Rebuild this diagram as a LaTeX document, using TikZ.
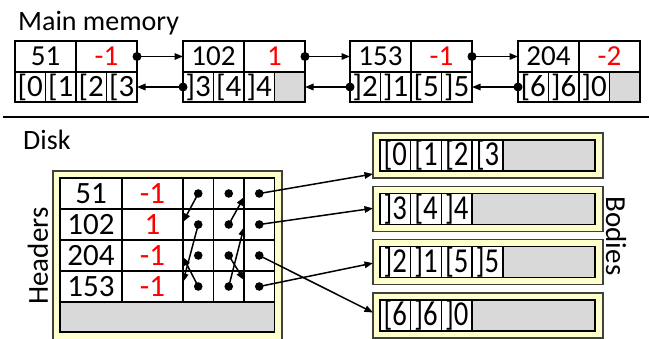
\documentclass[tikz,border=0pt]{standalone}
\usepackage{fontspec}
\setmainfont{Carlito}
\newfontfamily\narrowfont[FakeStretch=0.82]{Carlito}
\usetikzlibrary{arrows.meta,calc}
\definecolor{slotgray}{HTML}{D9D9D9}
\definecolor{pagefill}{HTML}{FFFFCC}
\definecolor{valred}{HTML}{FF0000}

% one record in main memory: name, left x, key, value, slots 1-3, slot-4 options, slot-4 text
\newcommand{\memrecord}[9]{%
  \node[memkey] (#1k) at (#2,41) {#3};
  \node[memval] (#1v) at (#1k.north east) {#4};
  \node[memslot] (#1s1) at (#2,72) {#5};
  \node[memslot] (#1s2) at (#1s1.north east) {#6};
  \node[memslot] (#1s3) at (#1s2.north east) {#7};
  \node[memslot,#8] (#1s4) at (#1s3.north east) {#9};
}
% one row of the on-disk header table: row id, top y, key, value
\newcommand{\hdrrow}[4]{%
  \node[hkey] (h#1a) at (60,#2) {#3};
  \node[hval] (h#1b) at (h#1a.north east) {#4};
  \node[hptr] (h#1c) at (h#1b.north east) {};
  \node[hptr] (h#1d) at (h#1c.north east) {};
  \node[hptr] (h#1e) at (h#1d.north east) {};
  \fill (h#1c.center) circle[radius=4.3pt];
  \fill (h#1d.center) circle[radius=4.3pt];
  \fill (h#1e.center) circle[radius=4.3pt];
}
% one body page on disk: name, top y, list of slot texts
\newcommand{\bodypage}[3]{%
  \node[pagebox, minimum width=230pt, minimum height=45pt] (#1) at (373,#2) {};
  \node[box, fill=slotgray, minimum width=215pt, minimum height=31pt] (#1g) at (380,#2+7) {};
  \foreach \t [count=\n] in {#3} {
    \pgfmathsetmacro\off{30.7*(\n-1)}
    \node[bslot] (#1c\n) at ([xshift=\off pt]#1g.north west) {\t};
  }
}

\begin{document}
\begin{tikzpicture}[x=1pt,y=-1pt,
  box/.style={draw, line width=1.5pt, inner sep=0pt, outer sep=0pt, anchor=north west},
  memkey/.style={box, minimum width=61pt, minimum height=31pt, font=\fontsize{29}{29}\selectfont},
  memval/.style={memkey, text=valred},
  memslot/.style={box, fill=white, minimum width=30.5pt, minimum height=30pt, font=\fontsize{31}{31}\selectfont},
  hkey/.style={box, fill=white, minimum width=62pt, minimum height=31pt, font=\fontsize{31}{31}\selectfont},
  hval/.style={hkey, minimum width=61pt, text=valred},
  hptr/.style={box, fill=white, minimum width=30.5pt, minimum height=31pt},
  bslot/.style={box, fill=white, minimum width=30.7pt, minimum height=31pt, font=\narrowfont\fontsize{35}{35}\selectfont},
  pagebox/.style={draw=black!75, line width=1.4pt, fill=pagefill, inner sep=0pt, outer sep=0pt, anchor=north west},
  title/.style={inner sep=0pt, font=\fontsize{28}{28}\selectfont},
  link/.style={line width=1.5pt, -{Triangle[length=8.5pt,width=6.5pt]}}
]
\useasboundingbox (0,0) rectangle (649,338);

% ---------- main memory ----------
\node[title, anchor=base west] (memlabel) at (18,30) {Main memory};

\memrecord{r1}{15}{51}{-1}{[0}{[1}{[2}{}{[3}
\memrecord{r2}{183}{102}{1}{]3}{[4}{]4}{fill=slotgray}{}
\memrecord{r3}{350}{153}{-1}{]2}{]1}{[5}{}{]5}
\memrecord{r4}{518}{204}{-2}{[6}{]6}{]0}{fill=slotgray}{}

% forward links (dot on the value cell) and backward links (dot on the first slot)
\foreach \a/\b in {r1/r2, r2/r3, r3/r4} {
  \fill (\a v.east) circle[radius=4.5pt];
  \draw[link] (\a v.east) -- (\b k.west);
  \fill (\b s1.west) circle[radius=4.5pt];
  \draw[link] (\b s1.west) -- (\a s4.east);
}

% ---------- separator ----------
\coordinate (sepL) at (3,117);
\coordinate (sepR) at (649,117);
\draw[line width=1.6pt] (sepL) -- (sepR);

% ---------- disk ----------
\node[title, anchor=base west] (disklabel) at (23,149) {Disk};

\node[pagebox, minimum width=229pt, minimum height=180pt] (hdrpage) at (53,171) {};
\hdrrow{1}{178}{51}{-1}
\hdrrow{2}{209}{102}{1}
\hdrrow{3}{240}{204}{-1}
\hdrrow{4}{271}{153}{-1}
\node[box, fill=slotgray, minimum width=214.5pt, minimum height=30pt] (hfree) at (60,302) {};

\node[title, rotate=90, font=\fontsize{29}{29}\selectfont] (hdrlabel) at (38,256) {Headers};

% previous / next pointers inside the header table
\draw[link] (h1c.center) -- ($(h2c.west)+(0,2.5pt)$);
\draw[link] (h2c.center) -- ($(h4c.west)+(0,4.5pt)$);
\draw[link] (h4c.center) -- ($(h3c.west)+(0,-1.5pt)$);
\draw[link] (h2d.center) -- ($(h1d.east)+(0,-3.5pt)$);
\draw[link] (h4d.center) -- ($(h2d.east)+(0,-2.5pt)$);
\draw[link] (h3d.center) -- ($(h4d.east)+(0,6.5pt)$);

% body pages
\bodypage{b1}{133}{{[0},{[1},{[2},{[3}}
\bodypage{b2}{186.3}{{]3},{[4},{]4}}
\bodypage{b3}{239.6}{{]2},{]1},{[5},{]5}}
\bodypage{b4}{293}{{[6},{]6},{]0}}

\node[title, rotate=-90, font=\fontsize{29}{29}\selectfont] (bodylabel) at (616,236) {Bodies};

% body pointers
\draw[link] (h1e.center) -- ($(b1.west)+(0,-18.5pt)$);
\draw[link] (h2e.center) -- ($(b2.west)+(0,0.5pt)$);
\draw[link] (h3e.center) -- ($(b4.west)+(0,3pt)$);
\draw[link] (h4e.center) -- ($(b3.west)+(0,-1pt)$);
\end{tikzpicture}
\end{document}
